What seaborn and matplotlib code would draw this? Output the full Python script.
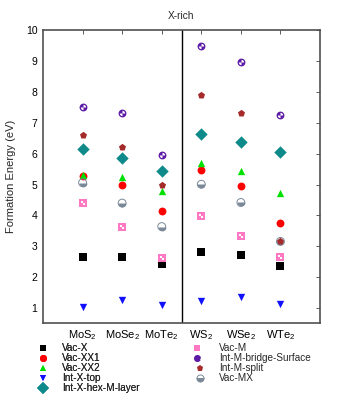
import numpy as np
import pandas as pd
import seaborn as sns
import matplotlib.pyplot as plt
from matplotlib.path import Path
from matplotlib.markers import MarkerStyle
from matplotlib.lines import Line2D
from matplotlib.legend_handler import HandlerTuple

# data
compounds = ["MoS$_2$", "MoSe$_2$", "MoTe$_2$", "WS$_2$", "WSe$_2$", "WTe$_2$"]
positions = [1, 2, 3, 4, 5, 6]
vac_x = [2.65, 2.64, 2.42, 2.81, 2.71, 2.36]
vac_xx1 = [5.29, 5.00, 4.13, 5.47, 4.94, 3.76]
vac_xx2 = [5.30, 5.25, 4.79, 5.69, 5.44, 4.74]
int_x_top = [1.05, 1.25, 1.10, 1.23, 1.37, 1.15]
int_x_hex = [6.14, 5.86, 5.45, 6.65, 6.38, 6.05]
vac_m = [4.39, 3.63, 2.61, 3.99, 3.34, 2.67]
int_m_bridge = [7.51, 7.32, 5.94, 9.48, 8.97, 7.25]
int_m_split = [6.61, 6.21, 4.99, 7.90, 7.33, 3.18]
vac_mx = [5.06, 4.40, 3.64, 5.01, 4.42, 3.16]

sns.set_style("white")
plt.rcParams["font.family"] = ["Liberation Sans", "DejaVu Sans"]
plt.rcParams["mathtext.default"] = "regular"
fs = 7.5

fig = plt.figure(figsize=(3.38, 3.94), dpi=100)
ax = fig.add_axes([43 / 338, 1 - 323 / 394, 277 / 338, 293 / 394])

df = pd.DataFrame({"pos": positions})

# checker markers
sq_check = Path.make_compound_path(
    Path([(-1, 0), (0, 0), (0, 1), (-1, 1), (-1, 0)],
         [Path.MOVETO, Path.LINETO, Path.LINETO, Path.LINETO, Path.CLOSEPOLY]),
    Path([(0, -1), (1, -1), (1, 0), (0, 0), (0, -1)],
         [Path.MOVETO, Path.LINETO, Path.LINETO, Path.LINETO, Path.CLOSEPOLY]),
)
circ_check = Path.make_compound_path(Path.wedge(0, 90), Path.wedge(180, 270))

series = [
    ("Vac-X", vac_x, "s", "black", 27),
    ("Vac-XX1", vac_xx1, "o", "#ff0000", 32),
    ("Vac-XX2", vac_xx2, "^", "#00e000", 28),
    ("Int-X-top", int_x_top, "v", "#1010ff", 28),
    ("Int-X-hex-M-layer", int_x_hex, "D", "#0f8a8a", 40),
    ("Vac-M", vac_m, "s", "#ff78c4", 27),
    ("Int-M-bridge-Surface", int_m_bridge, "o", "#5c1aa6", 32),
    ("Vac-MX", vac_mx, MarkerStyle("o", fillstyle="bottom"), "#7a8898", 32),
    ("Int-M-split", int_m_split, "p", "#a52a2a", 28),
]

for name, vals, mk, col, size in series:
    df[name] = vals
    sns.scatterplot(data=df, x="pos", y=name, marker=mk, color=col, s=size,
                    linewidth=0, ax=ax, zorder=3)
    if name == "Vac-M":
        sns.scatterplot(data=df, x="pos", y=name, marker=sq_check, color="white",
                        s=size * 0.4, linewidth=0, ax=ax, zorder=4)
    if name == "Int-M-bridge-Surface":
        sns.scatterplot(data=df, x="pos", y=name, marker=circ_check, color="white",
                        s=size * 0.45, linewidth=0, ax=ax, zorder=4)
    if name == "Vac-MX":
        ax.scatter(df["pos"], df[name], marker="o", s=size, facecolors="none",
                   edgecolors=col, linewidths=0.7, zorder=3)

ax.axvline(3.5, color="black", lw=1.0, zorder=2)
ax.set_xlim(0, 7)
ax.set_ylim(0.52, 10)
ax.set_xticks(positions)
ax.set_xticklabels(compounds, fontsize=8)
ax.set_yticks(range(1, 11))
ax.set_yticklabels([str(i) for i in range(1, 11)], fontsize=fs)
ax.tick_params(direction="in", top=True, right=True, length=3, width=0.6,
               colors="#404040", labelcolor="black", pad=4)
for sp in ax.spines.values():
    sp.set_color("#505050")
    sp.set_linewidth(1.2)
ax.set_xlabel("")
ax.set_ylabel("Formation Energy (eV)", fontsize=8, labelpad=7)
ax.set_title("X-rich", fontsize=7.3, pad=8)


def handle(name, mk, col, size):
    ms = np.sqrt(size) * 0.9
    base = Line2D([], [], ls="none", marker=mk, color=col, markersize=ms,
                  markeredgewidth=0)
    if name == "Vac-M":
        return (base, Line2D([], [], ls="none", marker=sq_check, color="white",
                             markersize=ms * 0.63, markeredgewidth=0))
    if name == "Int-M-bridge-Surface":
        return (base, Line2D([], [], ls="none", marker=circ_check, color="white",
                             markersize=ms * 0.67, markeredgewidth=0))
    if name == "Vac-MX":
        return Line2D([], [], ls="none", marker="o", fillstyle="bottom",
                      markerfacecolor=col, markerfacecoloralt="white",
                      markeredgecolor=col, markersize=ms, markeredgewidth=0.7)
    return base


lookup = {s[0]: s for s in series}
col1 = ["Vac-X", "Vac-XX1", "Vac-XX2", "Int-X-top", "Int-X-hex-M-layer"]
col2 = ["Vac-M", "Int-M-bridge-Surface", "Int-M-split", "Vac-MX"]
kw = dict(frameon=False, fontsize=7.2, handlelength=1.0, handletextpad=1.4,
          labelspacing=0.0, borderpad=0, borderaxespad=0, loc="upper left",
          handler_map={tuple: HandlerTuple(ndivide=None)})
leg1 = fig.legend([handle(*[n] + list(lookup[n][2:])) for n in col1], col1,
                  bbox_to_anchor=(38 / 338, 1 - 343 / 394), **kw)
fig.add_artist(leg1)
fig.legend([handle(*[n] + list(lookup[n][2:])) for n in col2], col2,
           bbox_to_anchor=(195 / 338, 1 - 343 / 394), **kw)

fig.savefig("out.png", dpi=100)
